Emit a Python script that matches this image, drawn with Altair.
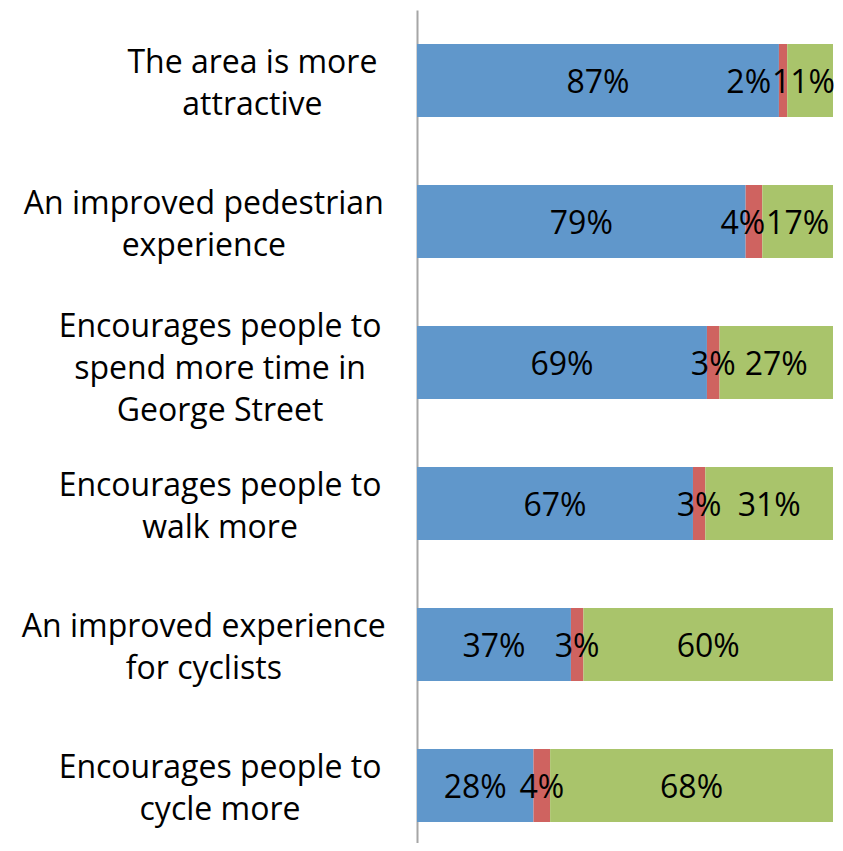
import altair as alt
import pandas as pd

categories = [
    "The area is more|attractive",
    "An improved pedestrian|experience",
    "Encourages people to|spend more time in|George Street",
    "Encourages people to|walk more",
    "An improved experience|for cyclists",
    "Encourages people to|cycle more",
]
agree = [87, 79, 69, 67, 37, 28]
disagree = [2, 4, 3, 3, 3, 4]
neutral = [11, 17, 27, 31, 60, 68]
responses = ["Agree", "Disagree", "Neither"]
colors = ["#6097CB", "#CF6360", "#A9C46B"]

rows = []
for i, c in enumerate(categories):
    for j, (r, vals) in enumerate(zip(responses, [agree, disagree, neutral])):
        rows.append({"category": c, "response": r, "value": vals[i], "order": j})
df = pd.DataFrame(rows)
cat_df = pd.DataFrame({"category": categories})

FONT = "Open Sans"
FS = 32          # category label size
SFS = 32         # segment label size
LH = 42          # category label line height
W = 416          # plot width
H = 846          # plot height
RPAD = 2         # right padding
DW = 0.572 * SFS  # approx digit width
PW = 0.823 * SFS  # approx percent-sign width

y_enc = alt.Y(
    "category:N",
    sort=categories,
    scale=alt.Scale(paddingInner=0.482, paddingOuter=0.241),
    axis=alt.Axis(title=None, labels=False, ticks=False, grid=False,
                  domainColor="#A6A6A6", domainWidth=2),
)

tw = f"((length(toString(datum.value)) * {DW} + {PW}) / {W})"
nw = f"((length(toString(datum.nv)) * {DW} + {PW}) / {W})"
# centre of the "Neither" label, kept inside the chart's right edge
nmid = f"min((datum.nx0 + 1) / 2, 1 + {RPAD} / {W} - {nw} / 2)"
nleft = f"({nmid} - {nw} / 2)"

base = alt.Chart(df).transform_stack(
    stack="value", groupby=["category"], as_=["x0", "x1"],
    offset="normalize", sort=[alt.SortField("order")]
).transform_calculate(
    mid="(datum.x0 + datum.x1) / 2",
    lab="datum.value + '%'",
    nx0_t="datum.response == 'Neither' ? datum.x0 : -1",
    nv_t="datum.response == 'Neither' ? datum.value : -1",
).transform_joinaggregate(
    nx0="max(nx0_t)", nv="max(nv_t)", groupby=["category"]
).transform_calculate(
    labx=(f"datum.response == 'Disagree' ? min(datum.mid + {tw} / 2, {nleft} - 1 / {W}) - {tw} / 2 : "
          f"datum.response == 'Neither' ? {nmid} : datum.mid")
)

xscale = alt.Scale(domain=[0, 1])

bars = base.mark_bar(strokeWidth=0).encode(
    x=alt.X("x0:Q", scale=xscale, axis=None),
    x2="x1:Q",
    y=y_enc,
    color=alt.Color("response:N", scale=alt.Scale(domain=responses, range=colors), legend=None),
)

seg_text = base.mark_text(font=FONT, fontSize=SFS, color="black", baseline="middle", dy=2).encode(
    x=alt.X("labx:Q", scale=xscale, axis=None),
    y=alt.Y("category:N", sort=categories),
    text="lab:N",
)

cat_base = alt.Chart(cat_df).transform_calculate(
    nlines="length(split(datum.category, '|'))",
    maxlen="max(length(split(datum.category,'|')[0]), length(split(datum.category,'|')[1] || ''), length(split(datum.category,'|')[2] || ''))",
).transform_calculate(
    lx="-(35 + datum.maxlen * 8.1)"
)

cat_layers = []
for n in (1, 2, 3):
    cat_layers.append(
        cat_base.transform_filter(f"datum.nlines == {n}").mark_text(
            font=FONT, fontSize=FS, color="black", align="center", baseline="middle",
            lineBreak="|", lineHeight=LH, dy=3 * (n - 1) - (n - 1) * LH / 2,
        ).encode(
            x=alt.X("lx:Q", scale=None),
            y=alt.Y("category:N", sort=categories),
            text="category:N",
        )
    )

chart = alt.layer(bars, seg_text, *cat_layers).properties(
    width=W, height=H,
    autosize=alt.AutoSizeParams(type="none"),
    padding={"left": 409, "top": 2, "right": RPAD, "bottom": -13},
).configure_view(stroke=None)

chart.save("out.html", embed_options={"renderer": "svg", "actions": False})
